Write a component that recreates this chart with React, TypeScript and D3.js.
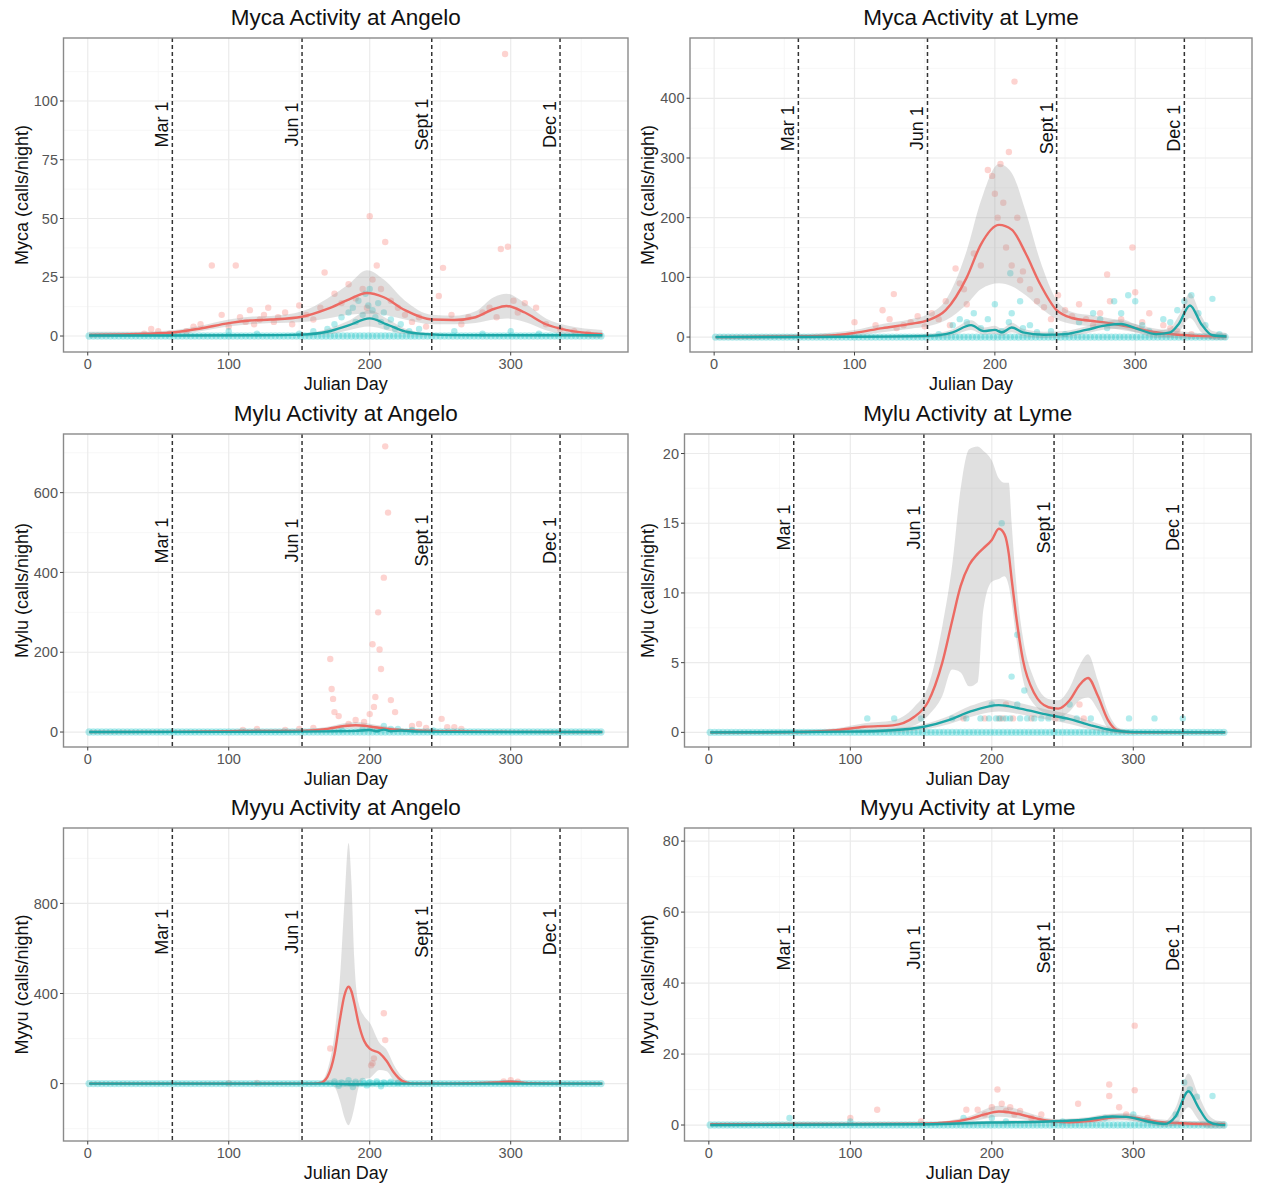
import React from 'react';
import * as d3 from 'd3';

type Fit = [number, number, number, number][]; // day, fit, lower, upper
type Pts = [number, number][]; // day, calls/night

// ---------- shared data ----------
const surveyDays = [1,4,7,10,13,16,19,22,25,28,31,34,37,40,43,46,49,52,55,58,61,64,67,70,73,76,79,82,85,88,91,94,97,100,103,106,109,112,115,118,121,124,127,130,133,136,139,142,145,148,151,154,157,160,163,166,169,172,175,178,181,184,187,190,193,196,199,202,205,208,211,214,217,220,223,226,229,232,235,238,241,244,247,250,253,256,259,262,265,268,271,274,277,280,283,286,289,292,295,298,301,304,307,310,313,316,319,322,325,328,331,334,337,340,343,346,349,352,355,358,361,364];
const monthDays = [60, 152, 244, 335];
const monthLabels = ['Mar 1', 'Jun 1', 'Sept 1', 'Dec 1'];
const xTicks = [0, 100, 200, 300];
const xMinor = [50, 150, 250, 350];

const panelTitles = ['Myca Activity at Angelo', 'Myca Activity at Lyme', 'Mylu Activity at Angelo', 'Mylu Activity at Lyme', 'Myyu Activity at Angelo', 'Myyu Activity at Lyme'];
const yTitles = ['Myca (calls/night)', 'Myca (calls/night)', 'Mylu (calls/night)', 'Mylu (calls/night)', 'Myyu (calls/night)', 'Myyu (calls/night)'];
const yTicks = [[0, 25, 50, 75, 100], [0, 100, 200, 300, 400], [0, 200, 400, 600], [0, 5, 10, 15, 20], [0, 400, 800], [0, 20, 40, 60, 80]];
const yMinor = [[12.5, 37.5, 62.5, 87.5, 112.5], [50, 150, 250, 350, 450], [100, 300, 500, 700], [2.5, 7.5, 12.5, 17.5], [-200, 200, 600, 1000], [10, 30, 50, 70]];
const yDomains = [[-6.8, 126.8], [-25, 501], [-37.5, 747], [-1.05, 21.4], [-255, 1135], [-4.5, 83.7]];
const monthLabelY = [90, 350, 480, 14.7, 674, 50];

// ---------- Myca Angelo ----------
const mycaAngeloRedFit: Fit = [[1,0.5,-0.8,1.8],[30,0.8,-0.2,1.8],[60,1.5,0.5,2.5],[80,3.2,2,4.4],[100,5.5,4,7],[115,6.6,5,8.2],[130,7,5.5,8.5],[152,8.2,6,10.5],[170,11.5,7.5,16],[185,15.5,9,22],[198,18.3,9.5,28],[210,16.5,9,24],[225,11,7,15],[244,7,5,9],[260,6.8,5,8.6],[275,8,5.5,10.5],[288,11.5,7,16.5],[297,12.8,7.5,18],[310,10,6,14],[325,5,2.5,7.5],[340,2.5,0.5,4.5],[365,0.8,-1,2.6]];
const mycaAngeloCyanFit: Fit = [[1,0.2,-0.4,0.8],[60,0.2,-0.2,0.6],[120,0.3,0,0.6],[152,0.6,0.1,1.1],[170,1.8,0.6,3],[185,4.5,2.5,6.5],[200,7.5,4,11],[212,5,2.5,7.5],[225,2,0.8,3.2],[240,0.8,0.2,1.4],[260,0.4,0,0.8],[300,0.3,0,0.6],[365,0.3,-0.3,0.9]];
const mycaAngeloRedPts: Pts = [[40,1],[45,3],[50,2],[58,1],[70,2],[75,4],[80,5],[88,30],[95,9],[100,4],[105,30],[108,8],[112,6],[115,11],[118,5],[122,7],[125,9],[128,12],[132,6],[135,8],[140,10],[145,5],[150,13],[155,9],[160,7],[165,12],[168,27],[175,18],[180,14],[185,22],[190,16],[195,20],[198,12],[200,51],[202,24],[205,30],[208,20],[211,40],[215,15],[220,12],[225,9],[230,6],[235,8],[240,4],[249,17],[252,29],[258,9],[265,5],[270,8],[280,10],[285,12],[290,8],[293,37],[296,120],[298,38],[302,15],[305,10],[310,14],[318,12],[325,5],[335,3],[345,2],[355,1]];
const mycaAngeloCyanPts: Pts = [[100,2],[120,1],[150,1],[160,2],[170,3],[175,5],[180,8],[185,10],[188,12],[190,6],[192,15],[195,9],[197,18],[199,13],[200,20],[202,11],[204,8],[206,14],[208,6],[210,10],[212,4],[215,7],[218,3],[222,5],[228,2],[235,3],[260,2],[280,1],[300,2],[320,1]];

// ---------- Myca Lyme ----------
const mycaLymeRedFit: Fit = [[1,0,-4,4],[60,1,-3,5],[90,4,-1,9],[100,7,2,12],[120,15,8,22],[140,22,14,30],[152,28,18,38],[165,45,28,62],[180,100,55,145],[190,155,80,228],[203,188,90,290],[212,180,85,275],[222,140,70,210],[232,90,50,130],[244,45,30,62],[255,32,22,42],[270,27,18,36],[285,22,14,30],[300,15,8,22],[315,8,2,14],[330,4,-2,10],[345,2,-3,7],[365,1,-4,6]];
const mycaLymeCyanFit: Fit = [[1,0,-2,2],[100,0.5,-1.5,2.5],[152,2,-1,5],[170,8,3,13],[183,20,12,28],[192,10,4,16],[200,12,5,19],[205,8,2,14],[212,16,8,24],[220,8,2,14],[235,4,-1,9],[250,5,0,10],[265,12,6,18],[280,20,13,27],[290,22,14,30],[300,15,8,22],[315,5,-1,11],[325,8,0,16],[331,22,8,36],[339,53,32,74],[347,22,8,36],[355,3,-4,10],[365,1,-5,7]];
const mycaLymeRedPts: Pts = [[100,25],[115,20],[120,45],[125,30],[128,72],[130,15],[135,20],[140,25],[145,35],[150,18],[155,40],[160,30],[165,60],[168,20],[172,115],[175,90],[178,80],[180,55],[185,140],[190,120],[195,280],[198,270],[200,240],[202,200],[204,290],[206,225],[208,150],[210,310],[212,120],[214,428],[216,200],[218,95],[220,110],[225,80],[230,60],[235,50],[240,30],[245,70],[250,45],[255,35],[260,55],[265,30],[270,20],[275,40],[280,105],[282,60],[290,30],[298,150],[300,75],[305,25],[310,40],[320,20],[325,15],[330,10],[340,5]];
const mycaLymeCyanPts: Pts = [[160,5],[170,20],[175,30],[180,25],[185,40],[190,15],[195,30],[200,55],[205,10],[210,25],[212,40],[211,107],[218,60],[220,15],[225,20],[230,8],[240,10],[250,5],[260,25],[270,40],[275,30],[280,15],[285,60],[290,40],[295,70],[300,60],[305,20],[310,10],[320,30],[325,25],[330,45],[335,60],[340,70],[345,40],[350,20],[355,64],[360,5]];

// ---------- Mylu Angelo ----------
const myluAngeloRedFit: Fit = [[1,0,-2,2],[60,0.5,-2,3],[100,2,-1,5],[120,3,0,6],[150,3,0,6],[170,8,3,13],[182,15,8,22],[190,17,9,25],[200,14,7,21],[210,9,3,15],[222,5,1,9],[240,3,0,6],[260,2,-1,5],[300,0.5,-2,3],[365,0,-2,2]];
const myluAngeloCyanFit: Fit = [[1,0,-2,2],[100,0.5,-1.5,2.5],[150,1,-1,3],[175,2,0,4],[190,3,0,6],[200,5,2,8],[205,2,0,4],[210,6,3,9],[215,2,0,4],[222,4,1,7],[235,1,-1,3],[260,0.5,-1.5,2.5],[365,0,-2,2]];
const myluAngeloRedPts: Pts = [[110,5],[120,8],[140,5],[150,8],[160,10],[172,183],[173,108],[174,83],[175,50],[178,40],[185,20],[190,30],[196,25],[200,45],[202,220],[203,63],[204,88],[206,300],[207,207],[208,158],[210,387],[211,716],[213,550],[215,80],[218,50],[230,15],[235,20],[240,10],[251,33],[255,12],[260,12],[265,8]];
const myluAngeloCyanPts: Pts = [[180,5],[195,8],[200,10],[205,6],[210,15],[215,8],[220,8],[230,5],[245,4]];

// ---------- Mylu Lyme ----------
const myluLymeRedFit: Fit = [[1,0,-0.1,0.1],[60,0.02,-0.1,0.15],[90,0.15,0,0.3],[110,0.4,0.15,0.65],[130,0.5,0.2,0.85],[145,1.1,0.5,1.8],[155,2.2,1.2,3.3],[165,5,2.6,7.6],[172,8,4.5,12],[178,10.5,4.3,17.5],[184,12,3.3,20.3],[190,12.8,3.6,20.5],[194,13.2,8.8,20.2],[200,13.8,10.8,19.5],[205,14.6,11,18.2],[209,14.2,11.2,17.9],[212,12.8,10.5,17.9],[214,11,9.3,15],[217,8.5,7,11],[222,5.2,3.8,6.8],[230,2.8,2,3.8],[240,1.8,1.3,2.4],[247,1.7,1.1,2.3],[255,2.3,1.5,3.2],[262,3.4,2.3,4.8],[268,3.9,2.5,5.6],[275,2.6,1.6,3.7],[282,0.9,0.3,1.5],[290,0.1,-0.1,0.3],[300,0,-0.1,0.1],[365,0,-0.1,0.1]];
const myluLymeCyanFit: Fit = [[1,0,-0.1,0.1],[100,0.05,-0.05,0.15],[130,0.15,0,0.3],[152,0.4,0.2,0.6],[170,0.9,0.6,1.2],[185,1.5,1.1,1.9],[205,1.95,1.5,2.4],[220,1.7,1.3,2.1],[240,1.25,0.9,1.6],[255,0.95,0.6,1.3],[270,0.5,0.2,0.8],[285,0.15,-0.05,0.35],[300,0.02,-0.1,0.14],[365,0,-0.1,0.1]];
const myluLymeRedPts: Pts = [[180,1],[195,1],[205,1],[208,1],[215,1],[228,1],[245,1],[265,1],[210,2],[262,2]];
const myluLymeCyanPts: Pts = [[112,1],[131,1],[150,1],[172,1],[182,1],[192,1],[198,1],[203,1],[206,1],[210,1],[213,1],[220,1],[225,1],[230,1],[235,1],[240,1],[250,1],[260,1],[270,1],[297,1],[315,1],[335,1],[200,2],[218,2],[255,2],[223,3],[214,4],[218,7],[207,15]];

// ---------- Myyu Angelo ----------
const myyuAngeloRedFit: Fit = [[1,0,-3,3],[100,0,-3,3],[160,0,-3,3],[165,3,-3,8],[170,30,0,60],[175,130,-15,220],[179,290,-80,480],[182,390,-150,800],[185,430,-185,1068],[187,410,-160,900],[189,360,-110,560],[192,270,-20,360],[196,190,20,300],[200,155,25,270],[207,135,60,180],[212,100,55,150],[217,50,15,85],[223,12,-5,30],[230,0,-5,5],[260,0,-5,5],[290,5,-2,12],[300,8,0,16],[312,2,-4,8],[330,0,-3,3],[365,0,-3,3]];
const myyuAngeloCyanFit: Fit = [[1,0,-3,3],[170,0,-3,3],[185,-3,-10,4],[200,-2,-8,4],[215,0,-3,3],[365,0,-3,3]];
const myyuAngeloRedPts: Pts = [[100,2],[120,3],[172,156],[201,81],[202,90],[203,112],[210,312],[211,193],[295,10],[300,15],[305,8]];
const myyuAngeloCyanPts: Pts = [[175,10],[180,5],[185,15],[190,8],[195,12],[200,6],[205,10],[210,5],[215,8],[220,4],[178,-10],[188,-15],[198,-8],[208,-12]];

// ---------- Myyu Lyme ----------
const myyuLymeRedFit: Fit = [[1,0.2,-0.3,0.7],[60,0.3,-0.1,0.7],[100,0.3,0,0.6],[150,0.4,0.1,0.7],[170,0.8,0.3,1.3],[185,1.8,1,2.6],[195,3,1.8,4.4],[205,3.8,2.3,5.4],[215,3.4,2,4.8],[228,2.2,1.2,3.2],[240,1.2,0.5,1.9],[255,0.8,0.2,1.4],[270,1.2,0.5,1.9],[285,2.1,1.2,3],[295,2.3,1.3,3.3],[305,1.8,0.9,2.7],[318,0.9,0.2,1.6],[335,0.5,-0.2,1.2],[350,0.3,-0.4,1],[365,0.2,-0.6,1]];
const myyuLymeCyanFit: Fit = [[1,0,-0.5,0.5],[60,0.1,-0.3,0.5],[150,0.2,-0.2,0.6],[200,0.7,0.2,1.2],[240,1,0.5,1.5],[265,1.5,0.9,2.1],[285,2.4,1.6,3.2],[295,2.3,1.5,3.1],[310,1,0.3,1.7],[322,0.3,-0.5,1.1],[330,2.5,0,5],[339,9.5,5,14.5],[346,5,1.5,8.5],[353,1,-1,3],[360,0.1,-1,1.2],[365,0,-1,1]];
const myyuLymeRedPts: Pts = [[100,2],[119,4.3],[150,1],[182,4.3],[190,4.3],[195,3],[200,5],[204,10],[207,6],[210,4],[213,5],[216,3],[220,4],[228,2],[235,3],[261,6],[283,11.4],[283,8.2],[290,5],[295,3],[301,28],[301,9.8],[310,2]];
const myyuLymeCyanPts: Pts = [[57,2],[100,1],[180,2],[200,2],[210,1],[250,1],[280,2],[300,3],[330,3],[336,12],[340,10],[345,8],[356,8.2]];

const redFits = [mycaAngeloRedFit, mycaLymeRedFit, myluAngeloRedFit, myluLymeRedFit, myyuAngeloRedFit, myyuLymeRedFit];
const cyanFits = [mycaAngeloCyanFit, mycaLymeCyanFit, myluAngeloCyanFit, myluLymeCyanFit, myyuAngeloCyanFit, myyuLymeCyanFit];
const redPts = [mycaAngeloRedPts, mycaLymeRedPts, myluAngeloRedPts, myluLymeRedPts, myyuAngeloRedPts, myyuLymeRedPts];
const cyanPts = [mycaAngeloCyanPts, mycaLymeCyanPts, myluAngeloCyanPts, myluLymeCyanPts, myyuAngeloCyanPts, myyuLymeCyanPts];

// ---------- layout ----------
const W = 1261;
const H = 1185;
const X_DOMAIN = [-17.2, 383.2];
const plotLefts = [63.5, 690, 63.5, 684.5, 63.5, 684.5];
const plotRights = [628, 1252, 628, 1251, 628, 1251];
const plotTops = [38, 38, 434, 434, 828, 828];
const plotBottoms = [352, 352, 747, 747, 1141, 1141];
const yTitleX = [22, 648];

const FONT = '"Liberation Sans", Arial, Helvetica, sans-serif';
const RED = '#F8766D';
const CYAN = '#00BFC4';
const RED_LINE = '#EC6A63';
const CYAN_LINE = '#1CA6A6';

function Panel({ i }: { i: number }) {
  const L = plotLefts[i], R = plotRights[i], T = plotTops[i], B = plotBottoms[i];
  const x = d3.scaleLinear().domain(X_DOMAIN).range([L, R]);
  const y = d3.scaleLinear().domain(yDomains[i]).range([B, T]);
  const col = i % 2;
  const clipId = `clip-${i}`;
  const line = d3.line<[number, number, number, number]>().x(d => x(d[0])).y(d => y(d[1])).curve(d3.curveMonotoneX);
  const area = d3.area<[number, number, number, number]>().x(d => x(d[0])).y0(d => y(d[2])).y1(d => y(d[3])).curve(d3.curveMonotoneX);
  const cx = (L + R) / 2;
  const cy = (T + B) / 2;

  return (
    <g>
      <defs>
        <clipPath id={clipId}><rect x={L} y={T} width={R - L} height={B - T} /></clipPath>
      </defs>
      <rect x={L} y={T} width={R - L} height={B - T} fill="#fff" />
      <g clipPath={`url(#${clipId})`}>
        {xMinor.map(v => <line key={`xm${v}`} x1={x(v)} x2={x(v)} y1={T} y2={B} stroke="#F3F3F3" strokeWidth={0.7} />)}
        {yMinor[i].map(v => <line key={`ym${v}`} x1={L} x2={R} y1={y(v)} y2={y(v)} stroke="#F3F3F3" strokeWidth={0.7} />)}
        {xTicks.map(v => <line key={`xg${v}`} x1={x(v)} x2={x(v)} y1={T} y2={B} stroke="#EBEBEB" strokeWidth={1.2} />)}
        {yTicks[i].map(v => <line key={`yg${v}`} x1={L} x2={R} y1={y(v)} y2={y(v)} stroke="#EBEBEB" strokeWidth={1.2} />)}
        <g fill={RED} fillOpacity={0.32}>
          {redPts[i].map((p, k) => <circle key={`r${k}`} cx={x(p[0])} cy={y(p[1])} r={3.2} />)}
        </g>
        <g fill={CYAN} fillOpacity={0.3}>
          {surveyDays.map(d => <circle key={`cz${d}`} cx={x(d)} cy={y(0)} r={3.7} />)}
          {cyanPts[i].map((p, k) => <circle key={`c${k}`} cx={x(p[0])} cy={y(p[1])} r={3.2} />)}
        </g>
        <path d={area(redFits[i]) || ''} fill="#999" fillOpacity={0.3} />
        <path d={line(redFits[i]) || ''} fill="none" stroke={RED_LINE} strokeWidth={2.4} />
        <path d={area(cyanFits[i]) || ''} fill="#999" fillOpacity={0.3} />
        <path d={line(cyanFits[i]) || ''} fill="none" stroke={CYAN_LINE} strokeWidth={2.4} />
        {monthDays.map(d => <line key={`v${d}`} x1={x(d)} x2={x(d)} y1={T} y2={B} stroke="#333" strokeWidth={1.5} strokeDasharray="4 3" />)}
      </g>
      {monthDays.map((d, k) => (
        <text key={`vl${d}`} transform={`translate(${x(d) - 4},${y(monthLabelY[i])}) rotate(-90)`} textAnchor="middle" fontFamily={FONT} fontSize={18} fill="#111">{monthLabels[k]}</text>
      ))}
      <rect x={L} y={T} width={R - L} height={B - T} fill="none" stroke="#8A8A8A" strokeWidth={1.4} />
      {xTicks.map(v => (
        <g key={`xt${v}`}>
          <line x1={x(v)} x2={x(v)} y1={B} y2={B + 3.5} stroke="#444" strokeWidth={1} />
          <text x={x(v)} y={B + 17} textAnchor="middle" fontFamily={FONT} fontSize={14.5} fill="#555">{v}</text>
        </g>
      ))}
      {yTicks[i].map(v => (
        <g key={`yt${v}`}>
          <line x1={L - 3.5} x2={L} y1={y(v)} y2={y(v)} stroke="#444" strokeWidth={1} />
          <text x={L - 5.5} y={y(v)} dy="0.35em" textAnchor="end" fontFamily={FONT} fontSize={14.5} fill="#555">{v}</text>
        </g>
      ))}
      <text x={cx} y={B + 37.5} textAnchor="middle" fontFamily={FONT} fontSize={18} fill="#111">Julian Day</text>
      <text transform={`translate(${yTitleX[col] + 6},${cy}) rotate(-90)`} textAnchor="middle" fontFamily={FONT} fontSize={18} fill="#111">{yTitles[i]}</text>
      <text x={cx} y={T - 13.5} textAnchor="middle" fontFamily={FONT} fontSize={22.5} fill="#111">{panelTitles[i]}</text>
    </g>
  );
}

export default function App() {
  return (
    <svg width={W} height={H} viewBox={`0 0 ${W} ${H}`} style={{ position: 'absolute', left: 0, top: 0, background: '#fff' }}>
      <rect x={0} y={0} width={W} height={H} fill="#fff" />
      {panelTitles.map((_, i) => <Panel key={i} i={i} />)}
    </svg>
  );
}
